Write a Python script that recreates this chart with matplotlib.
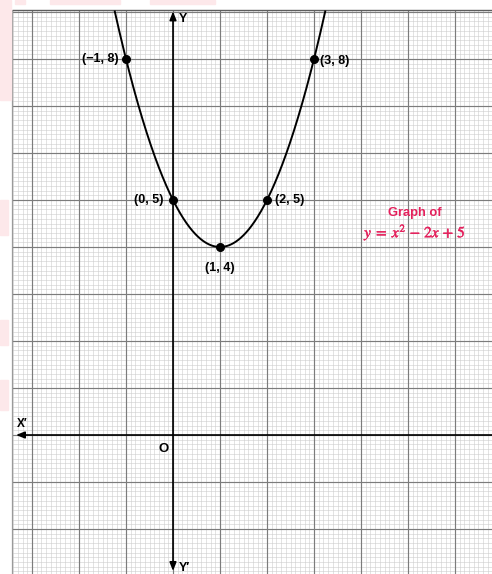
import numpy as np
import matplotlib
matplotlib.use("Agg")
import matplotlib.pyplot as plt
from matplotlib.patches import Rectangle
import matplotlib.patheffects as pe

# Quadratic y = a x^2 + b x + c
coeffs = [1, -2, 5]

# Plotted points and their labels
pt_x = [-1, 0, 1, 2, 3]
pt_y = [8, 5, 4, 5, 8]
pt_labels = ["(\u22121, 8)", "(0, 5)", "(1, 4)", "(2, 5)", "(3, 8)"]

W, H = 492, 574
fig = plt.figure(figsize=(W / 100, H / 100), dpi=100)
ax = fig.add_axes([0, 0, 1, 1])

# one unit on the paper = 47 px, origin at pixel (173, 435)
unit = 47.0
ox, oy = 173.0, 435.0
xmin, xmax = -ox / unit, (W - ox) / unit
ymin, ymax = (oy - H) / unit, oy / unit
ax.set_xlim(xmin, xmax)
ax.set_ylim(ymin, ymax)
ax.set_axis_off()

# paper edges
paper_left = (12 - ox) / unit
paper_top = (oy - 10) / unit

# faint pink margin marks
pink = "#fde8ea"
for (x0, y0, w, h) in [(15, 0, 10, 4), (50, 0, 70, 4), (150, 0, 65, 4),
                       (0, 0, 11, 100), (0, 200, 8, 35), (0, 320, 8, 25),
                       (0, 380, 8, 30)]:
    fig.patches.append(Rectangle((x0 / W, 1 - (y0 + h) / H), w / W, h / H,
                                 transform=fig.transFigure, color=pink, zorder=0))

# fine grid (tenths)
minor = np.arange(-34, 68) / 10.0
minor_x = minor[(minor > paper_left) & (minor < xmax)]
minor_y = np.arange(-30, 91) / 10.0
minor_y = minor_y[(minor_y > ymin) & (minor_y < paper_top)]
ax.vlines(minor_x, ymin, paper_top, colors="#cdcdcd", linewidth=0.4, zorder=1)
ax.hlines(minor_y, paper_left, xmax, colors="#cdcdcd", linewidth=0.4, zorder=1)

# unit grid
major_x = np.arange(-3, 7)
major_y = np.arange(-2, 10)
ax.vlines(major_x, ymin, paper_top, colors="#7c7c7c", linewidth=0.85, zorder=2)
ax.hlines(major_y[major_y <= paper_top], paper_left, xmax,
          colors="#7c7c7c", linewidth=0.85, zorder=2)
# paper border
ax.vlines([paper_left], ymin, paper_top, colors="#9a9a9a", linewidth=0.9, zorder=2)
ax.hlines([paper_top], paper_left, xmax, colors="#5e5e5e", linewidth=1.0, zorder=2)

# coordinate axes with arrowheads
arrow_kw = dict(arrowstyle="-|>,head_length=0.5,head_width=0.2", color="black",
                lw=1.2, shrinkA=0, shrinkB=0)
ax.annotate("", xy=(0, paper_top - 0.03), xytext=(0, 0), arrowprops=arrow_kw, zorder=4)
ax.annotate("", xy=(0, (oy - 571) / unit), xytext=(0, 0), arrowprops=arrow_kw, zorder=4)
ax.annotate("", xy=((16 - ox) / unit, 0), xytext=(0, 0), arrowprops=arrow_kw, zorder=4)
ax.plot([0, xmax], [0, 0], color="black", lw=1.2, zorder=4)

lab_kw = dict(fontfamily="Liberation Sans", fontweight="bold", color="black", zorder=6)
ax.text(0.12, 8.86, "Y", fontsize=9, ha="left", va="center", **lab_kw)
ax.text(0.12, -2.83, "Y\u2032", fontsize=9, ha="left", va="center", **lab_kw)
ax.text(-3.32, 0.24, "X\u2032", fontsize=8.5, ha="left", va="center", **lab_kw)
ax.text(-0.21, -0.30, "O", fontsize=9.5, ha="center", va="center", **lab_kw)

# the parabola across the paper
xs = np.linspace(-1.25, 3.25, 400)
ys = np.polyval(coeffs, xs)
keep = ys <= paper_top
ax.plot(xs[keep], ys[keep], color="black", lw=1.4, zorder=5)
ax.plot(pt_x, pt_y, "o", color="black", markersize=5.5, zorder=6)

# point labels
offsets = [(-0.15, 0.0, "right", "center"),
           (-0.2, 0.0, "right", "center"),
           (0.0, -0.44, "center", "center"),
           (0.18, 0.0, "left", "center"),
           (0.13, -0.04, "left", "center")]
for x, y, s, (dx, dy, ha, va) in zip(pt_x, pt_y, pt_labels, offsets):
    ax.text(x + dx, y + dy, s, fontsize=9, ha=ha, va=va, **lab_kw)

# caption
red = "#e4205c"
ax.text(5.15, 4.73, "Graph of", fontsize=9.3, color=red, ha="center", va="center",
        fontfamily="Liberation Sans", fontweight="bold", zorder=6)
plt.rcParams["mathtext.fontset"] = "stix"
ax.text(5.15, 4.31, r"$y\;=\;x^2\,-\,2x\,+\,5$", fontsize=11, color=red,
        ha="center", va="center", zorder=6,
        path_effects=[pe.withStroke(linewidth=0.3, foreground=red)])

fig.savefig("out.png", dpi=100, facecolor="white")
